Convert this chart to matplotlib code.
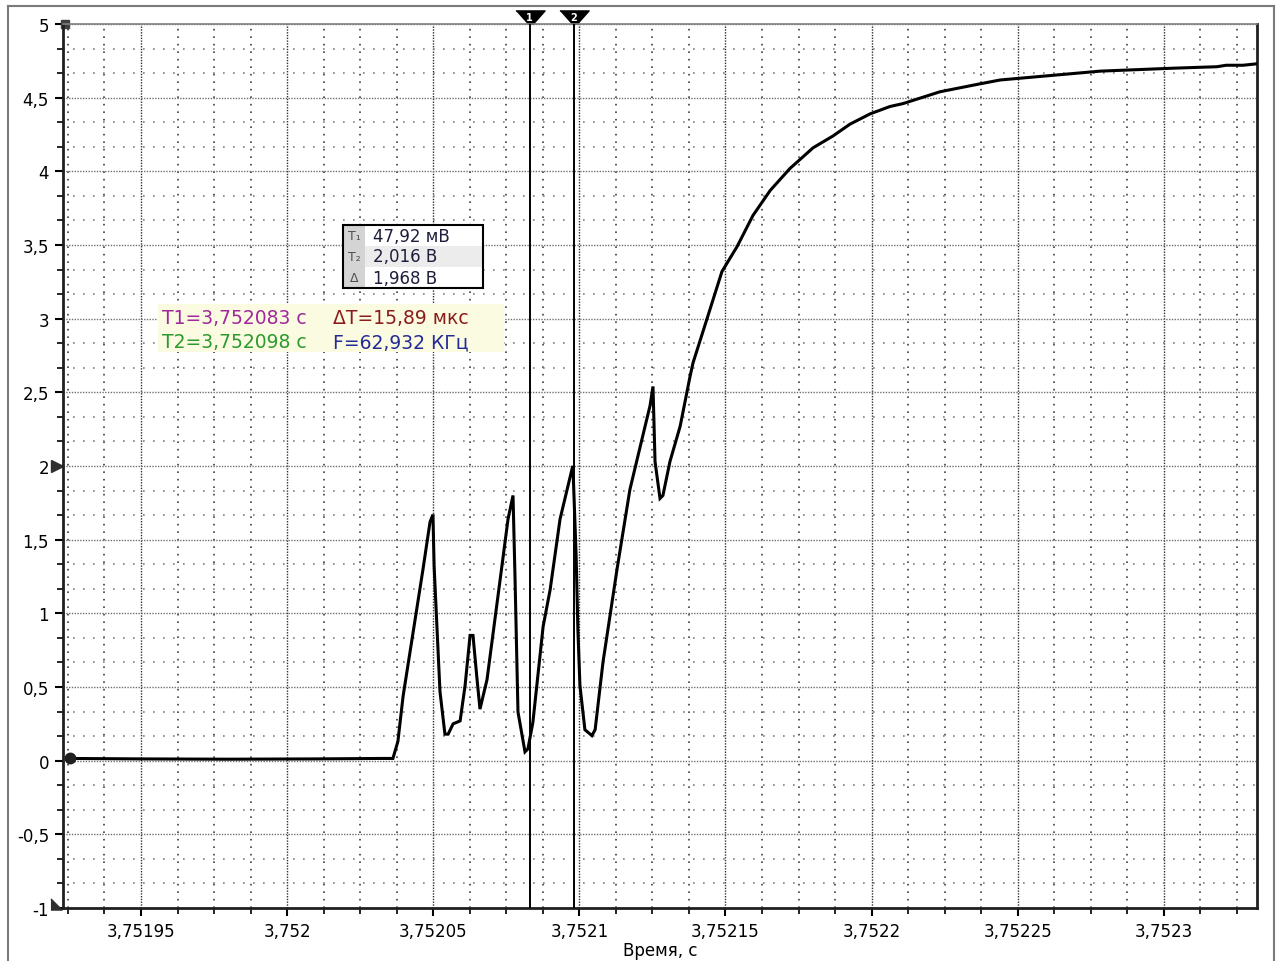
import matplotlib
matplotlib.use("Agg")
import matplotlib.pyplot as plt
import numpy as np
from matplotlib.ticker import MultipleLocator, AutoMinorLocator, FuncFormatter, FixedLocator
from matplotlib.transforms import offset_copy
from matplotlib.lines import Line2D
from matplotlib.patches import Rectangle

# signal trace: time offset (us) from T0 and voltage (V)
T0 = 3.75195
t_us = [-25.0, 0.0, 30.0, 60.0, 82.0, 86.2, 87.9, 89.7, 93.1, 96.5, 98.9, 99.9,
        100.3, 102.3, 104.0, 105.1, 106.8, 109.2, 110.9, 112.6, 113.6, 115.0,
        116.0, 118.4, 122.9, 125.6, 127.3, 128.0, 129.0, 131.4, 132.4, 134.1,
        137.6, 140.0, 143.4, 147.5, 147.8, 148.9, 149.5, 150.2, 151.9, 154.3,
        155.4, 158.1, 162.9, 167.3, 170.8, 174.2, 175.2, 175.9, 177.6, 178.6,
        181.0, 184.5, 187.9, 188.9, 193.7, 198.8, 204.0, 209.4, 215.3, 222.1,
        230.0, 236.8, 242.6, 249.5, 256.3, 260.8, 273.4, 286.1, 294.0, 328.2,
        353.2, 368.2, 371.3, 377.1, 381.9]
volts = [0.015, 0.012, 0.010, 0.012, 0.015, 0.015, 0.13, 0.44, 0.87, 1.30, 1.62, 1.67,
         1.32, 0.47, 0.18, 0.18, 0.25, 0.27, 0.51, 0.85, 0.85, 0.55,
         0.35, 0.55, 1.23, 1.64, 1.80, 1.23, 0.33, 0.06, 0.08, 0.26,
         0.91, 1.16, 1.64, 1.98, 2.00, 1.39, 0.89, 0.51, 0.21, 0.17,
         0.21, 0.67, 1.30, 1.84, 2.13, 2.41, 2.54, 2.03, 1.78, 1.80,
         2.03, 2.27, 2.61, 2.70, 3.00, 3.32, 3.49, 3.70, 3.87, 4.02,
         4.16, 4.24, 4.32, 4.39, 4.44, 4.46, 4.54, 4.59, 4.62, 4.68,
         4.70, 4.71, 4.72, 4.72, 4.73]

x_ticks = [3.75195, 3.752, 3.75205, 3.7521, 3.75215, 3.7522, 3.75225, 3.7523]
x_range = [3.7519233, 3.7523319]
y_range = [-1, 5]

T1 = 3.752083
T2 = 3.752098
trig_level = 2.0

meas_rows = ["47,92 мВ", "2,016 В", "1,968 В"]
meas_icons = ["T\u2081", "T\u2082", "\u0394"]
info_rows = [("T1=3,752083 c", "\u0394T=15,89 мкс"), ("T2=3,752098 c", "F=62,932 КГц")]
info_colors = [("#a0289c", "#8a1c1c"), ("#2c9a2c", "#242a96")]

W, H = 1277, 962
fig = plt.figure(figsize=(W / 100, H / 100), dpi=100)
L, R, TOP, BOT = 63, 1257, 25, 909
ax = fig.add_axes([L / W, 1 - BOT / H, (R - L) / W, (BOT - TOP) / H])

t = [T0 + u * 1e-6 for u in t_us]
ax.plot(t, volts, color="black", lw=2.2, solid_joinstyle="miter", zorder=5)
ax.plot([t[0] + 0.7e-6], [volts[0]], "o", color="#202020", ms=7.5, zorder=6)

ax.set_xlim(x_range)
ax.set_ylim(y_range)
ax.xaxis.set_major_locator(FixedLocator(x_ticks))
ax.xaxis.set_minor_locator(MultipleLocator(0.0000125))
ax.yaxis.set_major_locator(MultipleLocator(0.5))
ax.yaxis.set_minor_locator(AutoMinorLocator(3))


def fmt_x(v, pos):
    return f"{v:.5f}".rstrip("0").replace(".", ",")


def fmt_y(v, pos):
    return f"{v:g}".replace(".", ",")


ax.xaxis.set_major_formatter(FuncFormatter(fmt_x))
ax.yaxis.set_major_formatter(FuncFormatter(fmt_y))
ax.tick_params(axis="both", which="major", length=6, width=1.5, labelsize=12, pad=4)
ax.tick_params(axis="both", which="minor", length=4, width=1.2)

ax.xaxis.grid(True, which="major", color="#303030", linestyle=(0, (1, 1)), lw=1.0)
ax.xaxis.grid(True, which="minor", color="#404040", linestyle=(0, (1, 3.5)), lw=1.2)
ax.yaxis.grid(True, which="major", color="#707070", linestyle=(0, (1, 1)), lw=1.0)
ax.yaxis.grid(True, which="minor", color="#808080", linestyle=(0, (1, 5)), lw=1.2)

for s in ["left", "bottom", "right"]:
    ax.spines[s].set_linewidth(2.0)
    ax.spines[s].set_color("#202020")
ax.spines["top"].set_linewidth(1.2)
ax.spines["top"].set_color("#808080")

ax.set_xlabel("Время, с", fontsize=12, labelpad=1)

# cursors
tri = [(-1, 0.45), (1, 0.45), (0.2, -0.45), (-0.2, -0.45)]
top_tr = offset_copy(ax.get_xaxis_transform(), fig=fig, x=0, y=7, units="dots")
for i, tc in enumerate([T1, T2]):
    ax.axvline(tc, color="black", lw=1.4, zorder=4)
    ax.plot([tc], [1.0], marker=tri, ms=21, color="black", transform=top_tr, clip_on=False)
    ax.text(tc, 1.0, str(i + 1), color="white", fontsize=7, fontweight="bold",
            ha="center", va="center", transform=top_tr, clip_on=False)

# left side markers
ax.plot([0], [trig_level], marker=">", ms=9, color="#303030",
        transform=offset_copy(ax.get_yaxis_transform(), fig=fig, x=-6, y=0, units="dots"),
        clip_on=False)
ax.plot([0], [5], marker="s", ms=6, color="#404040",
        transform=offset_copy(ax.get_yaxis_transform(), fig=fig, x=2, y=0, units="dots"),
        clip_on=False)
ax.plot([0], [-1], marker=[(-1, -1), (1, -1), (-1, 1)], ms=8, color="#303030",
        transform=offset_copy(ax.get_yaxis_transform(), fig=fig, x=-7, y=4, units="dots"),
        clip_on=False)


def fx(px):
    return px / W


def fy(py):
    return 1 - py / H


# measurement box
bx0, bx1, by0, row_h = 343, 483, 226, 21
for i, (txt, ic) in enumerate(zip(meas_rows, meas_icons)):
    y_top = by0 + i * row_h
    bg = "#ececec" if i == 1 else "white"
    fig.add_artist(Rectangle((fx(bx0), fy(y_top + row_h)), fx(bx1 - bx0), (row_h) / H,
                             facecolor=bg, edgecolor="none", zorder=10))
    fig.add_artist(Rectangle((fx(bx0), fy(y_top + row_h)), fx(22), (row_h) / H,
                             facecolor="#d4d4d4", edgecolor="none", zorder=10))
    fig.text(fx(bx0 + 11), fy(y_top + row_h / 2), ic, fontsize=9, color="#505050",
             ha="center", va="center", zorder=11)
    fig.text(fx(373), fy(y_top + row_h / 2), txt, fontsize=12, color="#1e1e3c",
             ha="left", va="center", zorder=11)
fig.add_artist(Rectangle((fx(bx0), fy(by0 + 3 * row_h)), fx(bx1 - bx0), 3 * row_h / H,
                         facecolor="none", edgecolor="black", lw=1.5, zorder=12))

# info box
fig.add_artist(Rectangle((fx(158), fy(353)), fx(504 - 158), (353 - 305) / H,
                         facecolor="#fbfbe2", edgecolor="none", zorder=10))
for r, (row, cols) in enumerate(zip(info_rows, info_colors)):
    yc = 319 + r * 24
    fig.text(fx(162), fy(yc), row[0], fontsize=13.5, color=cols[0], ha="left", va="center", zorder=11)
    fig.text(fx(333), fy(yc), row[1], fontsize=13.5, color=cols[1], ha="left", va="center", zorder=11)

# outer frame
for xs, ys in [([8, 8], [7, 962]), ([8, 1274], [7, 7]), ([1274, 1274], [7, 962])]:
    fig.add_artist(Line2D([fx(x) for x in xs], [fy(y) for y in ys], color="#7a7a7a", lw=1.5))

fig.savefig("out.png", dpi=100)
